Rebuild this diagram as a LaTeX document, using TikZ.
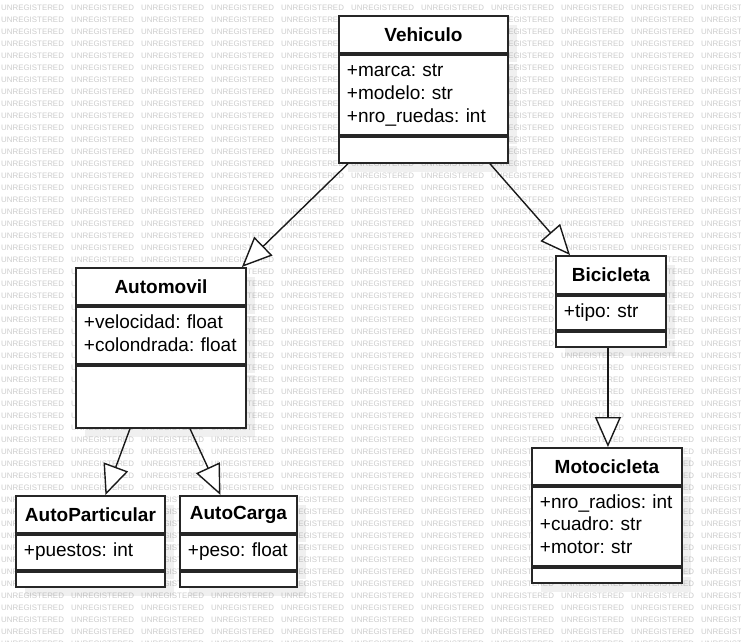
\documentclass[tikz,border=0pt]{standalone}
\usepackage{fontspec}
\setmainfont{Liberation Sans}
\usetikzlibrary{arrows.meta}
\usetikzlibrary{positioning}
\usetikzlibrary{shadows}
\tikzset{classpart/.style = {draw=black!85, line width=1.9pt, fill=white,
                             inner xsep=8pt, inner ysep=0pt,
                             font=\fontsize{19}{22.8}\selectfont\frenchspacing,
                             drop shadow={shadow xshift=9pt, shadow yshift=-9pt,
                                          fill=black, opacity=0.06}},
         inherit/.style = {draw=black!90, line width=1.4pt,
                           -{Triangle[open, fill=white, length=30pt, width=26pt]}},
         watermark/.style = {text=black!20, font=\fontsize{7.9}{8}\selectfont,
                             inner sep=0pt, anchor=west}}
% class box: name, x, y, width, heights of the three parts, title, attributes
\newcommand{\umlclass}[9]{%
  \pgfmathsetmacro{\partwidth}{#4-16}
  \node[classpart, anchor=north west, text width=\partwidth pt, align=center,
        minimum height=#5pt, font=\fontsize{19}{22.8}\selectfont\bfseries] (#1) at (#2,#3) {#8};
  \node[classpart, below=0pt of #1, text width=\partwidth pt, align=left,
        minimum height=#6pt] (#1-attr) {\begin{tabular}{@{}l@{}}#9\end{tabular}};
  \node[classpart, below=0pt of #1-attr, text width=\partwidth pt,
        minimum height=#7pt] (#1-ops) {};
}

\begin{document}
\begin{tikzpicture}[x=1pt, y=-1pt]
    \useasboundingbox (0,0) rectangle (741,642);

    % background text
    \begin{scope}
      \clip (0,0) rectangle (741,642);
      \foreach \row in {0,...,53}
        \foreach \col in {0,...,10}
          \node[watermark] (wm-\row-\col) at (\col*70+1, \row*12+8) {UNREGISTERED};
    \end{scope}

    \umlclass{vehiculo}{338}{15}{169}{37}{80}{26}{Vehiculo}{+marca: str\\+modelo: str\\+nro\_ruedas: int}
    \umlclass{automovil}{75}{267}{170}{37}{57}{62}{Automovil}{+velocidad: float\\+colondrada: float}
    \umlclass{bicicleta}{555}{255}{110}{38}{34}{15}{Bicicleta}{+tipo: str}
    \umlclass{motocicleta}{531}{447}{150}{37}{79}{15}{Motocicleta}{+nro\_radios: int\\+cuadro: str\\+motor: str}
    \umlclass{autoparticular}{15}{495}{149}{37}{35}{15}{AutoParticular}{+puestos: int}
    \umlclass{autocarga}{179}{495}{117}{37}{35}{15}{AutoCarga}{+peso: float}

    \draw[inherit] ([xshift=10pt]vehiculo-ops.south west) -- ([xshift=-5pt]automovil.north east);
    \draw[inherit] ([xshift=-19pt]vehiculo-ops.south east) -- ([xshift=15pt]bicicleta.north west);
    \draw[inherit] ([xshift=55pt]automovil-ops.south west) -- ([xshift=15pt]autoparticular.north);
    \draw[inherit] ([xshift=115pt]automovil-ops.south west) -- ([xshift=-18pt]autocarga.north);
    \draw[inherit] ([xshift=-3pt]bicicleta-ops.south) -- ([xshift=1pt]motocicleta.north);
\end{tikzpicture}
\end{document}
